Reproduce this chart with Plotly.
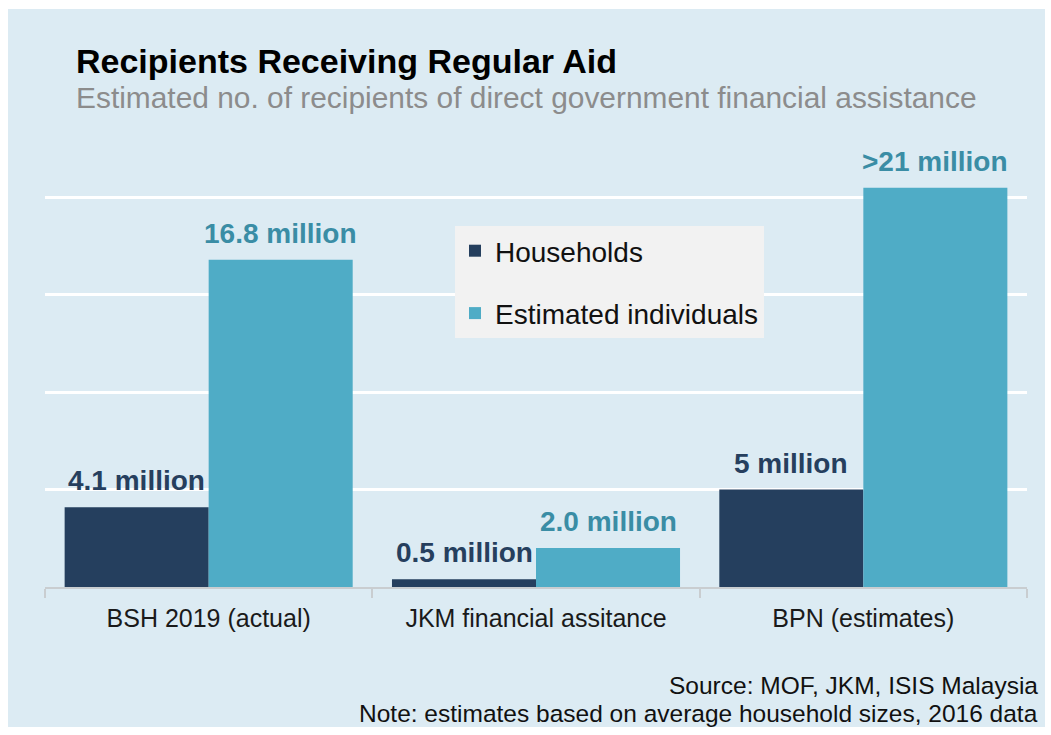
import plotly.graph_objects as go

categories = ["BSH 2019 (actual)", "JKM financial assitance", "BPN (estimates)"]
households = [4.1, 0.4, 5.0]
individuals = [16.8, 2.0, 20.5]
household_labels = ["4.1 million", "0.5 million", "5 million"]
individual_labels = ["16.8 million", "2.0 million", ">21 million"]

FONT = "Liberation Sans, Arial, sans-serif"
W, H = 1051, 735
L, R, T, B = 45, 24, 101, 148
PW, PH = W - L - R, H - T - B
BAR_OFFSET = 72  # half a bar width, px


def X(px):
    return (px - L) / PW


def Y(py):
    return (H - B - py) / PH


fig = go.Figure()
fig.add_trace(go.Bar(
    x=categories, y=households, name="Households",
    marker=dict(color="#253F5E", line=dict(width=0)),
    legendgroup="a", hoverinfo="y",
))
fig.add_trace(go.Bar(
    x=categories, y=individuals, name="Estimated individuals",
    marker=dict(color="#4FACC6", line=dict(width=0)),
    legendgroup="b", hoverinfo="y",
))

annotations = [
    dict(text="<b>Recipients Receiving Regular Aid</b>", xref="paper", yref="paper",
         x=X(74), y=Y(61), xanchor="left", yanchor="middle", showarrow=False,
         font=dict(family=FONT, size=34, color="#000000")),
    dict(text="Estimated no. of recipients of direct government financial assistance",
         xref="paper", yref="paper",
         x=X(74), y=Y(98), xanchor="left", yanchor="middle", showarrow=False,
         font=dict(family=FONT, size=29.9, color="#8C8C8C")),
    dict(text="Source: MOF, JKM, ISIS Malaysia", xref="paper", yref="paper",
         x=X(1040), y=Y(685), xanchor="right", yanchor="middle", showarrow=False,
         font=dict(family=FONT, size=24.5, color="#111111")),
    dict(text="Note: estimates based on average household sizes, 2016 data",
         xref="paper", yref="paper",
         x=X(1040), y=Y(713), xanchor="right", yanchor="middle", showarrow=False,
         font=dict(family=FONT, size=24.5, color="#111111")),
]
for cat, v, lab in zip(categories, households, household_labels):
    annotations.append(dict(
        text=f"<b>{lab}</b>", x=cat, y=v, xref="x", yref="y",
        xanchor="center", yanchor="bottom", xshift=-BAR_OFFSET, yshift=9,
        showarrow=False, font=dict(family=FONT, size=28, color="#263F5E")))
for cat, v, lab in zip(categories, individuals, individual_labels):
    annotations.append(dict(
        text=f"<b>{lab}</b>", x=cat, y=v, xref="x", yref="y",
        xanchor="center", yanchor="bottom", xshift=BAR_OFFSET, yshift=9,
        showarrow=False, font=dict(family=FONT, size=28, color="#3A8DA5")))

fig.update_layout(
    width=W, height=H,
    margin=dict(l=L, r=R, t=T, b=B, pad=0),
    paper_bgcolor="white",
    plot_bgcolor="rgba(0,0,0,0)",
    barmode="group", bargap=0.12, bargroupgap=0,
    font=dict(family=FONT, color="#1a1a1a"),
    showlegend=True,
    legend=dict(
        x=X(455), y=Y(226), xanchor="left", yanchor="top",
        bgcolor="#F2F2F2", borderwidth=0,
        font=dict(family=FONT, size=28, color="#111111"),
        tracegroupgap=23, traceorder="grouped",
    ),
    xaxis=dict(
        showline=True, linecolor="#C9CDD0", linewidth=2,
        ticks="outside", tickson="boundaries", ticklen=9,
        tickcolor="#C9CDD0", tickwidth=2,
        tickfont=dict(family=FONT, size=25, color="#1a1a1a"),
        ticklabelstandoff=8,
        showgrid=False,
    ),
    yaxis=dict(
        range=[0, 24.95], dtick=5, showticklabels=False,
        showgrid=True, gridcolor="white", gridwidth=2.5,
        zeroline=False, showline=False, ticks="",
    ),
    shapes=[dict(
        type="rect", xref="paper", yref="paper",
        x0=X(8), x1=X(1045), y0=Y(727), y1=Y(9),
        fillcolor="#DCEBF3", line=dict(width=0), layer="below",
    )],
    annotations=annotations,
)

fig.write_html("out.html")
